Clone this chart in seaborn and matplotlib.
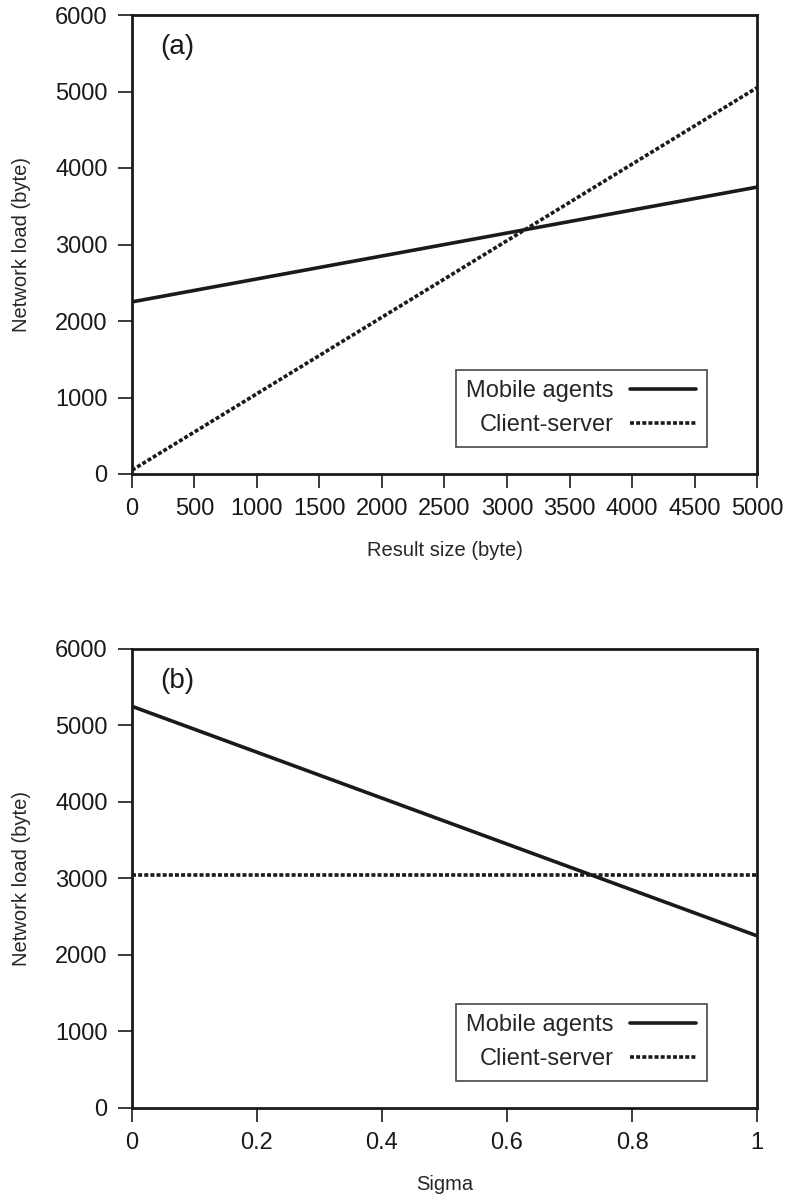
import pandas as pd
import matplotlib
matplotlib.use('Agg')
import matplotlib.pyplot as plt
import seaborn as sns

# Данные (a): сетевая нагрузка в зависимости от размера результата
result_size = [0, 5000]
mobile_a = [2250, 3750]
client_a = [50, 5050]

# Данные (b): сетевая нагрузка в зависимости от sigma
sigma = [0, 1]
mobile_b = [5250, 2250]
client_b = [3050, 3050]

x_ticks_a = [0, 500, 1000, 1500, 2000, 2500, 3000, 3500, 4000, 4500, 5000]
x_ticks_b = [0, 0.2, 0.4, 0.6, 0.8, 1]
x_ticklabels_b = ['0', '0.2', '0.4', '0.6', '0.8', '1']
y_ticks = [0, 1000, 2000, 3000, 4000, 5000, 6000]

sns.set_style("ticks")
plt.rcParams['font.family'] = ['Liberation Sans', 'DejaVu Sans']

ink = '#1a1a1a'
dot = (0, (1.1, 0.6))
lw = 2.6

fig = plt.figure(figsize=(7.87, 12), dpi=100)
ax_a = fig.add_axes([0.1677, 0.605, 0.7942, 0.3825])
ax_b = fig.add_axes([0.1677, 0.0767, 0.7942, 0.3825])

df_a = pd.DataFrame({'x': result_size * 2,
                     'y': mobile_a + client_a,
                     's': ['Mobile agents'] * 2 + ['Client-server'] * 2})
df_b = pd.DataFrame({'x': sigma * 2,
                     'y': mobile_b + client_b,
                     's': ['Mobile agents'] * 2 + ['Client-server'] * 2})


def draw(ax, df, xlim, xticks, xticklabels, xlabel, tag):
    sns.lineplot(data=df, x='x', y='y', hue='s', style='s',
                 palette={'Mobile agents': ink, 'Client-server': ink},
                 dashes={'Mobile agents': '', 'Client-server': dot[1]},
                 linewidth=lw, ax=ax, legend=False)
    ax.set_xlim(*xlim)
    ax.set_ylim(0, 6000)
    ax.set_xticks(xticks)
    ax.set_xticklabels(xticklabels)
    ax.set_yticks(y_ticks)
    ax.set_xlabel(xlabel, fontsize=14.5, labelpad=15)
    ax.set_ylabel('Network load (byte)', fontsize=14.5, labelpad=17)
    ax.tick_params(direction='out', length=10, width=1.2, labelsize=17,
                   color=ink, labelcolor=ink, pad=7.5)
    for sp in ax.spines.values():
        sp.set_visible(True)
        sp.set_linewidth(2.0)
        sp.set_color(ink)
    ax.text(0.045, 0.93, tag, transform=ax.transAxes, fontsize=20,
            ha='left', va='center', color=ink)
    h1, = ax.plot([], [], color=ink, lw=lw, label='Mobile agents')
    h2, = ax.plot([], [], color=ink, lw=lw, linestyle=dot, label='Client-server')
    leg = ax.legend(handles=[h1, h2], loc='lower right',
                    bbox_to_anchor=(0.92, 0.059), borderaxespad=0,
                    markerfirst=False, fontsize=17, frameon=True,
                    fancybox=False, handlelength=2.8, borderpad=0.45,
                    labelspacing=0.5, handletextpad=0.7)
    leg.get_frame().set_edgecolor(ink)
    leg.get_frame().set_linewidth(1.2)
    for t in leg.get_texts():
        t.set_ha('right')


draw(ax_a, df_a, (0, 5000), x_ticks_a, [str(v) for v in x_ticks_a],
     'Result size (byte)', '(a)')
draw(ax_b, df_b, (0, 1), x_ticks_b, x_ticklabels_b, 'Sigma', '(b)')

fig.savefig('out.png', dpi=100)
